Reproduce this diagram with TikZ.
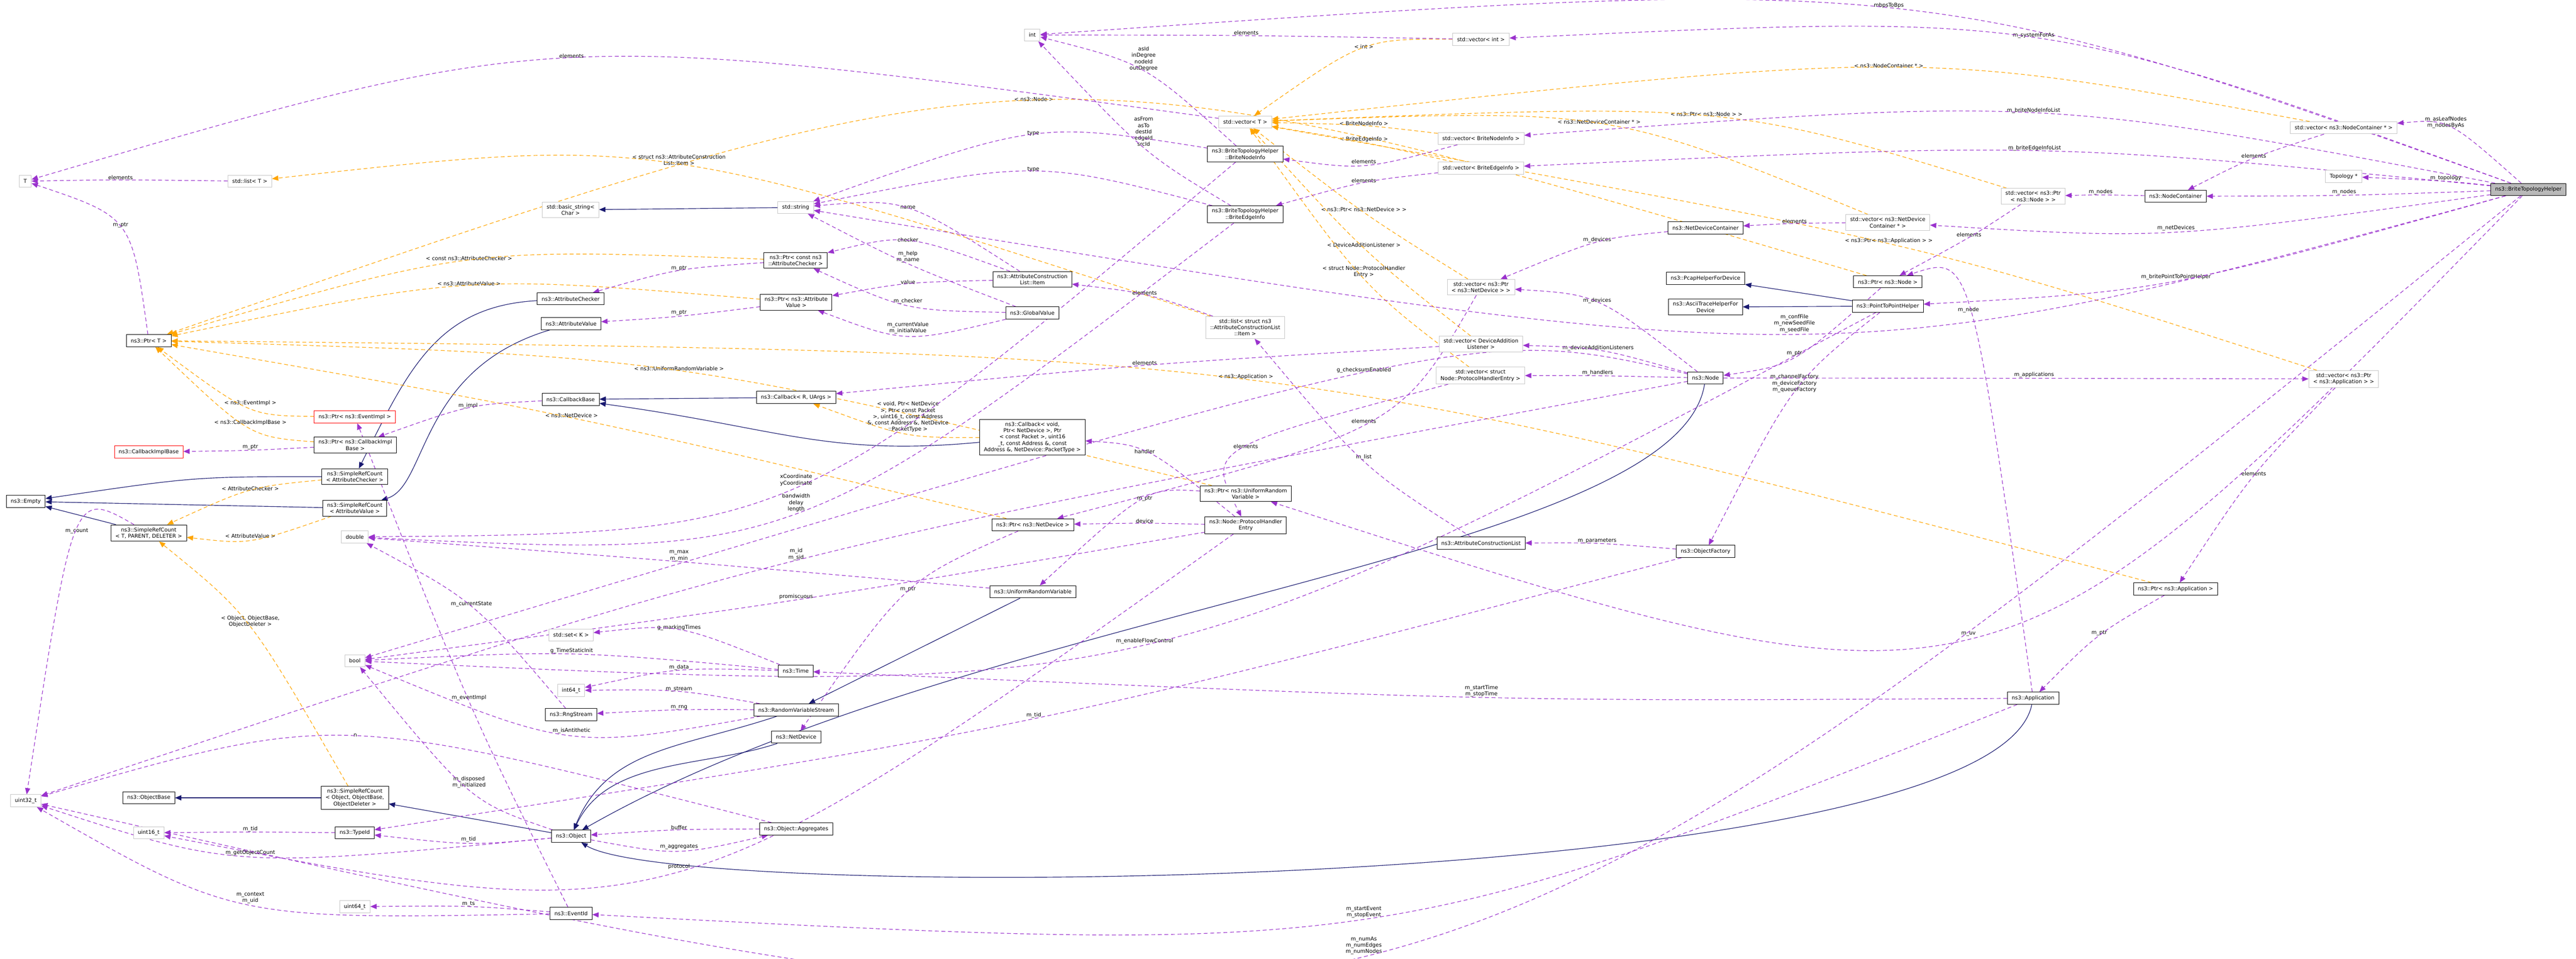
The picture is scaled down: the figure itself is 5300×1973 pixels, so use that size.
\documentclass[tikz,border=0pt]{standalone}
\usepackage{fontspec}
\setmainfont{DejaVu Sans}
\usetikzlibrary{arrows.meta,calc,backgrounds}
\definecolor{memc}{HTML}{9A32CD}
\definecolor{tplc}{HTML}{FFA500}
\definecolor{inhc}{HTML}{191970}
\newcommand{\conn}[6]{%
  \node[lbl] (#4) at (#5) {#6};
  \draw[#1] (#2) .. controls ($1.3333*(#4.south)-0.1667*(#2)-0.1667*(#3)$) .. (#3);}
\begin{document}
\begin{tikzpicture}[x=0.02cm, y=-0.02cm,
    font=\fontsize{6.2}{7.4}\selectfont,
    cls/.style = {draw, fill=white, line width=0.6pt, align=center, inner xsep=1.8mm, inner ysep=1.1mm, minimum height=5mm},
    ext/.style = {cls, draw=gray!45},
    bad/.style = {cls, draw=red},
    main/.style = {cls, fill=gray!55},
    lbl/.style = {align=center, inner sep=0.5pt},
    mem/.style = {memc, dashed, line width=0.7pt, dash pattern=on 1.6mm off 1.1mm, -{Triangle[length=2.6mm,width=2.1mm]}},
    tpl/.style = {mem, tplc},
    inh/.style = {inhc, line width=0.7pt, -{Triangle[length=2.6mm,width=2.1mm]}}]
\useasboundingbox (0,0) rectangle (5300,1973);
% classes and types
\node[ext] (T) at (52,373) {T};
\node[ext] (listT) at (514,373) {std::list< T >};
\node[cls] (PtrT) at (306,701) {ns3::Ptr< T >};
\node[bad] (PtrEI) at (730,858) {ns3::Ptr< ns3::EventImpl >};
\node[cls] (PtrCIB) at (731,916) {ns3::Ptr< ns3::CallbackImpl\\Base >};
\node[bad] (CIB) at (306,930) {ns3::CallbackImplBase};
\node[cls] (SrcAC) at (730,981) {ns3::SimpleRefCount\\< AttributeChecker >};
\node[cls] (SrcAV) at (730,1046) {ns3::SimpleRefCount\\< AttributeValue >};
\node[cls] (Empty) at (53,1032) {ns3::Empty};
\node[cls] (SrcT) at (306,1097) {ns3::SimpleRefCount\\< T, PARENT, DELETER >};
\node[ext] (double) at (730,1105) {double};
\node[ext] (bool) at (730,1360) {bool};
\node[ext] (uint32) at (53,1648) {uint32\_t};
\node[cls] (ObjBase) at (306,1642) {ns3::ObjectBase};
\node[cls] (SrcObj) at (730,1642) {ns3::SimpleRefCount\\< Object, ObjectBase,\\ObjectDeleter >};
\node[ext] (uint16) at (306,1714) {uint16\_t};
\node[cls] (TypeId) at (730,1714) {ns3::TypeId};
\node[ext] (uint64) at (730,1866) {uint64\_t};
\node[ext] (basicstr) at (1174,432) {std::basic\_string<\\Char >};
\node[ext] (string) at (1637,427) {std::string};
\node[cls] (PtrAC) at (1637,536) {ns3::Ptr< const ns3\\::AttributeChecker >};
\node[cls] (AC) at (1174,615) {ns3::AttributeChecker};
\node[cls] (PtrAV) at (1638,622) {ns3::Ptr< ns3::Attribute\\Value >};
\node[cls] (AV) at (1175,666) {ns3::AttributeValue};
\node[cls] (CbBase) at (1174,822) {ns3::CallbackBase};
\node[cls] (Cb) at (1638,818) {ns3::Callback< R, UArgs >};
\node[cls] (Item) at (2124,575) {ns3::AttributeConstruction\\List::Item};
\node[cls] (GV) at (2124,644) {ns3::GlobalValue};
\node[cls] (CbVoid) at (2124,900) {ns3::Callback< void,\\Ptr< NetDevice >, Ptr\\< const Packet >, uint16\\\_t, const Address \&, const\\Address \&, NetDevice::PacketType >};
\node[ext] (setK) at (1175,1307) {std::set< K >};
\node[cls] (Time) at (1637,1381) {ns3::Time};
\node[ext] (int64) at (1175,1421) {int64\_t};
\node[cls] (Rng) at (1175,1471) {ns3::RngStream};
\node[cls] (RVS) at (1638,1461) {ns3::RandomVariableStream};
\node[cls] (NetDev) at (1638,1517) {ns3::NetDevice};
\node[cls] (Object) at (1175,1721) {ns3::Object};
\node[cls] (Aggr) at (1638,1706) {ns3::Object::Aggregates};
\node[cls] (EventId) at (1175,1880) {ns3::EventId};
\node[cls] (PtrND) at (2125,1080) {ns3::Ptr< ns3::NetDevice >};
\node[cls] (URV) at (2125,1218) {ns3::UniformRandomVariable};
\node[ext] (int) at (2124,72) {int};
\node[ext] (vecInt) at (3047,81) {std::vector< int >};
\node[ext] (vecT) at (2562,251) {std::vector< T >};
\node[cls] (BNI) at (2562,317) {ns3::BriteTopologyHelper\\::BriteNodeInfo};
\node[cls] (BEI) at (2562,441) {ns3::BriteTopologyHelper\\::BriteEdgeInfo};
\node[ext] (vecBNI) at (3047,285) {std::vector< BriteNodeInfo >};
\node[ext] (vecBEI) at (3047,346) {std::vector< BriteEdgeInfo >};
\node[ext] (vecPND) at (3047,591) {std::vector< ns3::Ptr\\< ns3::NetDevice > >};
\node[ext] (listItem) at (2562,674) {std::list< struct ns3\\::AttributeConstructionList\\::Item >};
\node[ext] (vecDAL) at (3047,708) {std::vector< DeviceAddition\\Listener >};
\node[ext] (vecPHE) at (3046,773) {std::vector< struct\\Node::ProtocolHandlerEntry >};
\node[cls] (PtrURV) at (2563,1016) {ns3::Ptr< ns3::UniformRandom\\Variable >};
\node[cls] (PHE) at (2563,1081) {ns3::Node::ProtocolHandler\\Entry};
\node[cls] (ACL) at (3047,1118) {ns3::AttributeConstructionList};
\node[ext] (vecPN) at (4183,404) {std::vector< ns3::Ptr\\< ns3::Node > >};
\node[ext] (vecNDC) at (3884,458) {std::vector< ns3::NetDevice\\Container * >};
\node[cls] (NDC) at (3509,469) {ns3::NetDeviceContainer};
\node[cls] (PtrNode) at (3884,580) {ns3::Ptr< ns3::Node >};
\node[cls] (Pcap) at (3509,573) {ns3::PcapHelperForDevice};
\node[cls] (Ascii) at (3509,632) {ns3::AsciiTraceHelperFor\\Device};
\node[cls] (P2P) at (3884,630) {ns3::PointToPointHelper};
\node[cls] (Node) at (3509,778) {ns3::Node};
\node[cls] (ObjFac) at (3509,1135) {ns3::ObjectFactory};
\node[cls] (App) at (4183,1437) {ns3::Application};
\node[ext] (vecNC) at (4822,263) {std::vector< ns3::NodeContainer * >};
\node[ext] (Topo) at (4822,363) {Topology *};
\node[cls] (NC) at (4476,404) {ns3::NodeContainer};
\node[main] (BTH) at (5202,390) {ns3::BriteTopologyHelper};
\node[ext] (vecPApp) at (4822,780) {std::vector< ns3::Ptr\\< ns3::Application > >};
\node[cls] (PtrApp) at (4476,1212) {ns3::Ptr< ns3::Application >};
\begin{pgfonlayer}{background}
% inheritance
\draw[inh] (string) -- (basicstr);
\draw[inh] (AC) .. controls (900,630) and (840,760) .. (SrcAC);
\draw[inh] (AV) .. controls (860,760) and (880,1000) .. (SrcAV);
\draw[inh] (SrcAC) .. controls (400,981) .. (Empty);
\draw[inh] (SrcAV) -- (Empty);
\draw[inh] (SrcT) -- (Empty);
\draw[inh] (Cb) -- (CbBase);
\draw[inh] (CbVoid) .. controls (1700,940) and (1600,880) .. (CbBase);
\draw[inh] (SrcObj) -- (ObjBase);
\draw[inh] (Object) -- (SrcObj);
\draw[inh] (RVS) .. controls (1400,1540) and (1250,1540) .. (Object);
\draw[inh] (NetDev) .. controls (1450,1580) and (1250,1560) .. (Object);
\draw[inh] (URV) -- (RVS);
\draw[inh] (Node) .. controls (3450,1150) and (2000,1250) .. (Object);
\draw[inh] (App) .. controls (4100,1843) and (1400,1860) .. (Object);
\draw[inh] (P2P) -- (Pcap);
\draw[inh] (P2P) -- (Ascii);
% templates
\conn{tpl}{PtrEI}{PtrT}{t1}{515,830}{< ns3::EventImpl >}
\conn{tpl}{PtrCIB}{PtrT}{t2}{515,870}{< ns3::CallbackImplBase >}
\conn{tpl}{PtrAC}{PtrT}{t3}{965,532}{< const ns3::AttributeChecker >}
\conn{tpl}{PtrAV}{PtrT}{t4}{965,584}{< ns3::AttributeValue >}
\conn{tpl}{PtrURV}{PtrT}{t5}{1397,759}{< ns3::UniformRandomVariable >}
\conn{tpl}{PtrND}{PtrT}{t6}{1176,855}{< ns3::NetDevice >}
\conn{tpl}{PtrNode}{PtrT}{t7}{2127,204}{< ns3::Node >}
\conn{tpl}{PtrApp}{PtrT}{t8}{2563,776}{< ns3::Application >}
\conn{tpl}{listItem}{listT}{t9}{1397,329}{< struct ns3::AttributeConstruction\\List::Item >}
\conn{tpl}{SrcAC}{SrcT}{t10}{515,1006}{< AttributeChecker >}
\conn{tpl}{SrcAV}{SrcT}{t11}{515,1103}{< AttributeValue >}
\conn{tpl}{SrcObj}{SrcT}{t12}{515,1279}{< Object, ObjectBase,\\ObjectDeleter >}
\conn{tpl}{CbVoid}{Cb}{t13}{1868,858}{< void, Ptr< NetDevice\\>, Ptr< const Packet\\>, uint16\_t, const Address\\\&, const Address \&, NetDevice\\::PacketType >}
\conn{tpl}{vecInt}{vecT}{t14}{2806,96}{< int >}
\conn{tpl}{vecBNI}{vecT}{t15}{2806,254}{< BriteNodeInfo >}
\conn{tpl}{vecBEI}{vecT}{t16}{2806,287}{< BriteEdgeInfo >}
\conn{tpl}{vecPND}{vecT}{t17}{2806,431}{< ns3::Ptr< ns3::NetDevice > >}
\conn{tpl}{vecDAL}{vecT}{t18}{2806,504}{< DeviceAdditionListener >}
\conn{tpl}{vecPHE}{vecT}{t19}{2806,559}{< struct Node::ProtocolHandler\\Entry >}
\conn{tpl}{vecNC}{vecT}{t20}{3886,135}{< ns3::NodeContainer * >}
\conn{tpl}{vecPN}{vecT}{t21}{3511,235}{< ns3::Ptr< ns3::Node > >}
\conn{tpl}{vecNDC}{vecT}{t22}{3290,251}{< ns3::NetDeviceContainer * >}
\conn{tpl}{vecPApp}{vecT}{t23}{3886,496}{< ns3::Ptr< ns3::Application > >}
% members
\conn{mem}{listT}{T}{m1}{248,365}{elements}
\conn{mem}{PtrT}{T}{m2}{248,463}{m\_ptr}
\conn{mem}{vecT}{T}{m3}{1176,115}{elements}
\conn{mem}{PtrCIB}{CIB}{m4}{515,920}{m\_ptr}
\conn{mem}{PtrAC}{AC}{m5}{1397,552}{m\_ptr}
\conn{mem}{PtrAV}{AV}{m6}{1397,644}{m\_ptr}
\conn{mem}{Item}{string}{m7}{1868,427}{name}
\conn{mem}{Item}{PtrAC}{m8}{1868,494}{checker}
\conn{mem}{GV}{string}{m9}{1868,529}{m\_help\\m\_name}
\conn{mem}{Item}{PtrAV}{m10}{1868,580}{value}
\conn{mem}{GV}{PtrAC}{m11}{1868,620}{m\_checker}
\conn{mem}{GV}{PtrAV}{m12}{1868,675}{m\_currentValue\\m\_initialValue}
\conn{mem}{BNI}{int}{m13}{2353,121}{asId\\inDegree\\nodeId\\outDegree}
\conn{mem}{BEI}{int}{m14}{2353,271}{asFrom\\asTo\\destId\\edgeId\\srcId}
\conn{mem}{BNI}{string}{m15}{2126,274}{type}
\conn{mem}{BEI}{string}{m16}{2126,349}{type}
\conn{mem}{BNI}{double}{m17}{1638,988}{xCoordinate\\yCoordinate}
\conn{mem}{BEI}{double}{m18}{1638,1035}{bandwidth\\delay\\length}
\conn{mem}{vecInt}{int}{m19}{2564,68}{elements}
\conn{mem}{vecBNI}{BNI}{m20}{2806,332}{elements}
\conn{mem}{vecBEI}{BEI}{m21}{2806,372}{elements}
\conn{mem}{vecPND}{PtrND}{m22}{2806,867}{elements}
\conn{mem}{vecPHE}{PHE}{m23}{2563,919}{elements}
\conn{mem}{vecDAL}{Cb}{m24}{2355,747}{elements}
\conn{mem}{listItem}{Item}{m25}{2355,603}{elements}
\conn{mem}{PHE}{CbVoid}{m26}{2355,929}{handler}
\conn{mem}{PHE}{PtrND}{m27}{2355,1072}{device}
\conn{mem}{PtrURV}{URV}{m28}{2355,1026}{m\_ptr}
\conn{mem}{PtrND}{NetDev}{m29}{1868,1213}{m\_ptr}
\conn{mem}{URV}{double}{m30}{1397,1144}{m\_max\\m\_min}
\conn{mem}{Node}{uint32}{m31}{1638,1141}{m\_id\\m\_sid}
\conn{mem}{PHE}{bool}{m32}{1638,1228}{promiscuous}
\conn{mem}{Time}{setK}{m33}{1397,1292}{g\_markingTimes}
\conn{mem}{Time}{bool}{m34}{1176,1340}{g\_TimeStaticInit}
\conn{mem}{Time}{int64}{m35}{1397,1374}{m\_data}
\conn{mem}{RVS}{int64}{m36}{1397,1418}{m\_stream}
\conn{mem}{RVS}{Rng}{m37}{1397,1456}{m\_rng}
\conn{mem}{RVS}{bool}{m38}{1176,1504}{m\_isAntithetic}
\conn{mem}{Aggr}{Object}{m39}{1397,1703}{buffer}
\conn{mem}{Object}{Aggr}{m40}{1397,1743}{m\_aggregates}
\conn{mem}{PHE}{uint16}{m41}{1397,1784}{protocol}
\conn{mem}{Rng}{double}{m42}{970,1243}{m\_currentState}
\conn{mem}{EventId}{PtrEI}{m43}{965,1436}{m\_eventImpl}
\conn{mem}{CbBase}{PtrCIB}{m44}{963,835}{m\_impl}
\conn{mem}{Object}{bool}{m45}{965,1610}{m\_disposed\\m\_initialized}
\conn{mem}{Object}{TypeId}{m46}{964,1728}{m\_tid}
\conn{mem}{TypeId}{uint16}{m47}{515,1706}{m\_tid}
\conn{mem}{Object}{uint32}{m48}{515,1755}{m\_getObjectCount}
\conn{mem}{Aggr}{uint32}{m49}{731,1513}{n}
\conn{mem}{SrcT}{uint32}{m50}{158,1093}{m\_count}
\conn{mem}{EventId}{uint32}{m51}{515,1848}{m\_context\\m\_uid}
\conn{mem}{EventId}{uint64}{m52}{964,1860}{m\_ts}
\conn{mem}{ObjFac}{TypeId}{m53}{2127,1472}{m\_tid}
\conn{mem}{P2P}{bool}{m54}{2355,1319}{m\_enableFlowControl}
\conn{mem}{ObjFac}{ACL}{m55}{3286,1113}{m\_parameters}
\conn{mem}{ACL}{listItem}{m56}{2806,941}{m\_list}
\conn{mem}{P2P}{ObjFac}{m57}{3692,789}{m\_channelFactory\\m\_deviceFactory\\m\_queueFactory}
\conn{mem}{Node}{vecPND}{m58}{3286,619}{m\_devices}
\conn{mem}{NDC}{vecPND}{m59}{3286,494}{m\_devices}
\conn{mem}{Node}{vecDAL}{m60}{3288,716}{m\_deviceAdditionListeners}
\conn{mem}{Node}{vecPHE}{m61}{3287,767}{m\_handlers}
\conn{mem}{Node}{vecPApp}{m62}{4185,772}{m\_applications}
\conn{mem}{Node}{bool}{m63}{2806,762}{g\_checksumEnabled}
\conn{mem}{PtrNode}{Node}{m64}{3692,727}{m\_ptr}
\conn{mem}{vecPN}{PtrNode}{m65}{4051,483}{elements}
\conn{mem}{vecNDC}{NDC}{m66}{3692,455}{elements}
\conn{mem}{NC}{vecPN}{m67}{4322,395}{m\_nodes}
\conn{mem}{vecNC}{NC}{m68}{4637,321}{elements}
\conn{mem}{vecPApp}{PtrApp}{m69}{4637,975}{elements}
\conn{mem}{PtrApp}{App}{m70}{4319,1303}{m\_ptr}
\conn{mem}{App}{PtrNode}{m71}{4050,638}{m\_node}
\conn{mem}{App}{Time}{m72}{3048,1422}{m\_startTime\\m\_stopTime}
\conn{mem}{App}{EventId}{m73}{2806,1877}{m\_startEvent\\m\_stopEvent}
\conn{mem}{BTH}{int}{m74}{3886,11}{mbpsToBps}
\conn{mem}{BTH}{vecInt}{m75}{4184,73}{m\_systemForAs}
\conn{mem}{BTH}{vecNC}{m76}{5032,252}{m\_asLeafNodes\\m\_nodesByAs}
\conn{mem}{BTH}{vecBNI}{m77}{4184,228}{m\_briteNodeInfoList}
\conn{mem}{BTH}{vecBEI}{m78}{4186,305}{m\_briteEdgeInfoList}
\conn{mem}{BTH}{Topo}{m79}{5032,367}{m\_topology}
\conn{mem}{BTH}{NC}{m80}{4823,395}{m\_nodes}
\conn{mem}{BTH}{vecNDC}{m81}{4477,469}{m\_netDevices}
\conn{mem}{BTH}{P2P}{m82}{4477,570}{m\_britePointToPointHelper}
\conn{mem}{BTH}{string}{m83}{3692,666}{m\_confFile\\m\_newSeedFile\\m\_seedFile}
\conn{mem}{BTH}{PtrURV}{m84}{4050,1305}{m\_uv}
\conn{mem}{BTH}{uint32}{m85}{2806,1946}{m\_numAs\\m\_numEdges\\m\_numNodes}
\end{pgfonlayer}
\end{tikzpicture}
\end{document}
